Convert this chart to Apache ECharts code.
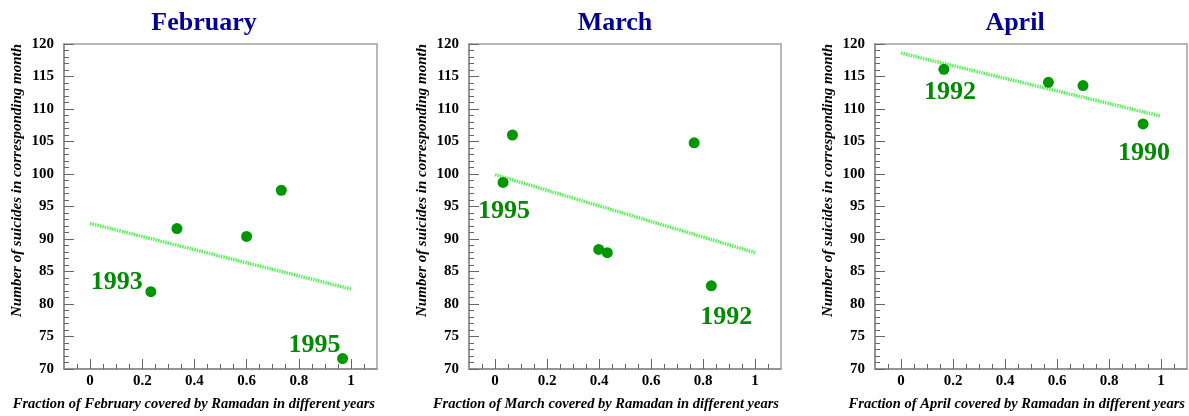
<!DOCTYPE html>
<html><head><meta charset="utf-8">
<script src="https://cdn.jsdelivr.net/npm/echarts@6/dist/echarts.min.js"></script>
<style>html,body{margin:0;padding:0;background:#fff}#c{width:1189px;height:416px}</style>
</head><body><div id="c"></div>
<script>
// ---- data ----
const months = ['February', 'March', 'April'];
const febX = [0.233, 0.333, 0.600, 0.733, 0.968];
const febY = [81.9, 91.6, 90.4, 97.5, 71.6];
const febYears = ['1993', '', '', '', '1995'];
const febFit = [92.4, 82.3];
const marX = [0.031, 0.067, 0.399, 0.432, 0.766, 0.832];
const marY = [98.7, 106.0, 88.4, 87.9, 104.8, 82.8];
const marYears = ['1995', '', '', '', '', '1992'];
const marFit = [99.9, 87.9];
const aprX = [0.165, 0.567, 0.700, 0.931];
const aprY = [116.1, 114.1, 113.6, 107.7];
const aprYears = ['1992', '', '', '1990'];
const aprFit = [118.6, 108.9];
const fitX = [0, 1];
const xTicks = [0, 0.2, 0.4, 0.6, 0.8, 1];
const xMinorTicks = [-0.05, 0.05, 0.1, 0.15, 0.25, 0.3, 0.35, 0.45, 0.5, 0.55, 0.65, 0.7, 0.75, 0.85, 0.9, 0.95, 1.05];

// ---- layout / style ----
const panels = [
  {xs: febX, ys: febY, yrs: febYears, fit: febFit, left: 64, width: 313, titleX: 204,
   off: {'1993': [-34, -9], '1995': [-28, -13]}},
  {xs: marX, ys: marY, yrs: marYears, fit: marFit, left: 469, width: 312, titleX: 615,
   off: {'1995': [1, 29], '1992': [15, 31]}},
  {xs: aprX, ys: aprY, yrs: aprYears, fit: aprFit, left: 875, width: 312, titleX: 1015,
   off: {'1992': [6, 23], '1990': [1, 29]}}
];
const serif = 'Liberation Serif, Times New Roman, serif';
const axisGrey = '#8a8a8a';
const tickGrey = '#666';

const option = {animation: false, title: [], grid: [], xAxis: [], yAxis: [], series: []};
panels.forEach((p, i) => {
  option.title.push({text: months[i], left: p.titleX, top: 10, textAlign: 'center', padding: 0,
    textStyle: {fontFamily: serif, fontWeight: 'bold', fontSize: 26, color: '#000096'}});
  option.grid.push({left: p.left, width: p.width, top: 44, height: 325, show: true,
    borderColor: '#a0a0a0', borderWidth: 1.5, containLabel: false});
  option.xAxis.push({type: 'value', gridIndex: i, min: -0.1, max: 1.1, position: 'bottom',
    splitLine: {show: false},
    axisLine: {show: true, onZero: false, lineStyle: {color: axisGrey, width: 1.5}},
    axisTick: {show: true, inside: true, length: 10, customValues: xTicks, lineStyle: {color: tickGrey}},
    axisLabel: {show: true, customValues: xTicks, margin: 5, fontFamily: serif, fontWeight: 'bold',
      fontSize: 15, color: '#000', formatter: v => String(Math.round(v * 10) / 10)},
    name: 'Fraction of ' + months[i] + ' covered by Ramadan in different years',
    nameLocation: 'end', nameGap: 0,
    nameTextStyle: {fontFamily: serif, fontStyle: 'italic', fontWeight: 'bold', fontSize: 14.5, color: '#000',
      align: 'right', verticalAlign: 'top', padding: [28, 2, 0, 0]}});
  option.xAxis.push({type: 'value', gridIndex: i, min: -0.1, max: 1.1, position: 'bottom', offset: 0,
    splitLine: {show: false}, axisLine: {show: false},
    axisTick: {show: true, inside: true, length: 5, customValues: xMinorTicks, lineStyle: {color: tickGrey}},
    axisLabel: {show: false}});
  option.yAxis.push({type: 'value', gridIndex: i, min: 70, max: 120, interval: 5,
    splitLine: {show: false},
    axisLine: {show: true, onZero: false, lineStyle: {color: axisGrey, width: 1.5}},
    axisTick: {show: true, inside: true, length: 10, lineStyle: {color: tickGrey}},
    minorTick: {show: true, splitNumber: 5, length: 5, lineStyle: {color: tickGrey}},
    axisLabel: {margin: 10, fontFamily: serif, fontWeight: 'bold', fontSize: 15, color: '#000'},
    name: 'Number of suicides in corresponding month', nameLocation: 'end', nameGap: 0, nameRotate: 90,
    nameTextStyle: {fontFamily: serif, fontStyle: 'italic', fontWeight: 'bold', fontSize: 15, color: '#000',
      align: 'right', verticalAlign: 'bottom', padding: [0, 0, 39, 0]}});
  option.series.push({type: 'line', xAxisIndex: 2 * i, yAxisIndex: i, symbol: 'none', z: 1,
    data: fitX.map((x, k) => [x, p.fit[k]]),
    lineStyle: {color: '#5eee5e', width: 3.5, type: [1.5, 1], opacity: 1}});
  option.series.push({type: 'scatter', xAxisIndex: 2 * i, yAxisIndex: i, symbolSize: 11, z: 3,
    itemStyle: {color: '#009600', opacity: 1},
    data: p.xs.map((x, k) => {
      const d = {value: [x, p.ys[k]]};
      if (p.yrs[k]) {
        d.label = {show: true, formatter: p.yrs[k], position: 'inside', offset: p.off[p.yrs[k]],
          align: 'center', verticalAlign: 'middle', fontFamily: serif, fontWeight: 'bold', fontSize: 26,
          color: '#008a00', opacity: 1};
      }
      return d;
    })});
});
const chart = echarts.init(document.getElementById('c'), null, {renderer: 'canvas'});
chart.setOption(option);
</script></body></html>
